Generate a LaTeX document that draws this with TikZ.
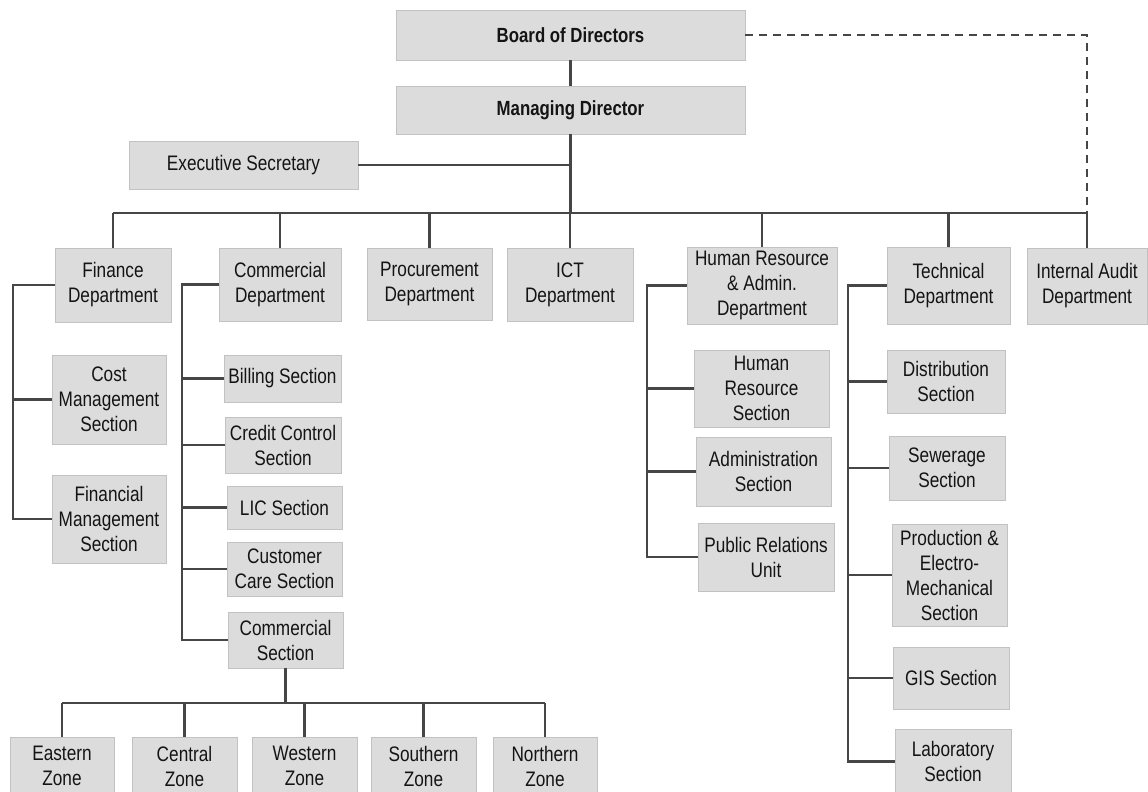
\documentclass[tikz,border=0pt]{standalone}
\usepackage{fontspec}
\setmainfont{Liberation Sans}[FakeStretch=0.82]
\definecolor{boxfill}{HTML}{DCDCDC}
\definecolor{boxedge}{HTML}{C2C2C2}
\definecolor{linec}{HTML}{464646}
\definecolor{txt}{HTML}{141414}
\tikzset{
  box/.style={draw=boxedge, fill=boxfill, line width=0.9pt, align=center,
    inner sep=0pt, text=txt, font=\fontsize{21}{25}\selectfont},
  topbox/.style={box, font=\fontsize{20.5}{25}\selectfont\bfseries},
  link/.style={draw=linec, line width=2.2pt},
  dotted link/.style={draw=linec, line width=2pt, dash pattern=on 8pt off 6pt}
}
\begin{document}
\begin{tikzpicture}[x=1pt,y=-1pt]
\useasboundingbox (0,0) rectangle (1148,792);
\clip (0,0) rectangle (1148,792);
\fill[white] (0,0) rectangle (1148,792);

% top of the hierarchy
\node[topbox, minimum width=349pt, minimum height=50pt] (bod) at (570.5,35) {Board of Directors};
\node[topbox, minimum width=349pt, minimum height=48pt] (md)  at (570.5,110) {Managing Director};
\node[box, minimum width=229pt, minimum height=48pt] (es) at (243.5,165) {Executive Secretary};

% departments
\node[box, minimum width=116pt, minimum height=74pt] (fin)  at (113,285)    {Finance\\Department};
\node[box, minimum width=122pt, minimum height=73pt] (com)  at (280,284.5)  {Commercial\\Department};
\node[box, minimum width=125pt, minimum height=72pt] (proc) at (429.5,284)  {Procurement\\Department};
\node[box, minimum width=126pt, minimum height=73pt] (ict)  at (570,284.5)  {ICT\\Department};
\node[box, minimum width=150pt, minimum height=77pt] (hr)   at (762,285.5)  {Human Resource\\\& Admin.\\Department};
\node[box, minimum width=123pt, minimum height=77pt] (tech) at (948.5,285.5) {Technical\\Department};
\node[box, minimum width=120pt, minimum height=76pt] (ia)   at (1087,286)   {Internal Audit\\Department};

% finance sections
\node[box, minimum width=114pt, minimum height=89pt] (cost) at (109,399.5) {Cost\\Management\\Section};
\node[box, minimum width=114pt, minimum height=88pt] (fm)   at (109,519)   {Financial\\Management\\Section};

% commercial sections
\node[box, minimum width=117pt, minimum height=47pt] (bill) at (282.5,378.5) {Billing Section};
\node[box, minimum width=116pt, minimum height=56pt] (cc)   at (283,445)     {Credit Control\\Section};
\node[box, minimum width=115pt, minimum height=43pt] (lic)  at (284.5,507.5) {LIC Section};
\node[box, minimum width=115pt, minimum height=54pt] (care) at (284.5,569)   {Customer\\Care Section};
\node[box, minimum width=115pt, minimum height=56pt] (cs)   at (285.5,640)   {Commercial\\Section};

% zones
\node[box, minimum width=104pt, minimum height=58pt] (ez) at (62,766)    {Eastern\\Zone};
\node[box, minimum width=105pt, minimum height=58pt] (cz) at (184.5,766) {Central\\Zone};
\node[box, minimum width=105pt, minimum height=58pt] (wz) at (304.5,766) {Western\\Zone};
\node[box, minimum width=105pt, minimum height=58pt] (sz) at (423.5,766) {Southern\\Zone};
\node[box, minimum width=104pt, minimum height=58pt] (nz) at (545,766)   {Northern\\Zone};

% human resource sections
\node[box, minimum width=135pt, minimum height=77pt] (hrs) at (761.5,388.5) {Human\\Resource\\Section};
\node[box, minimum width=135pt, minimum height=69pt] (adm) at (763.5,471.5) {Administration\\Section};
\node[box, minimum width=136pt, minimum height=68pt] (pr)  at (766,557)     {Public Relations\\Unit};

% technical sections
\node[box, minimum width=118pt, minimum height=63pt]  (dist) at (946,381.5) {Distribution\\Section};
\node[box, minimum width=116pt, minimum height=64pt]  (sew)  at (947,468)   {Sewerage\\Section};
\node[box, minimum width=115pt, minimum height=102pt] (prod) at (949.5,575) {Production \&\\Electro-\\Mechanical\\Section};
\node[box, minimum width=116pt, minimum height=62pt]  (gis)  at (951,678)   {GIS Section};
\node[box, minimum width=116pt, minimum height=65pt]  (lab)  at (953,761.5) {Laboratory\\Section};

% routing guides
\coordinate (bus)    at (0,213);
\coordinate (zbus)   at (0,703);
\coordinate (fspine) at (13,0);
\coordinate (cspine) at (182,0);
\coordinate (hspine) at (647,0);
\coordinate (tspine) at (848,0);

% management chain
\draw[link] (bod.south) -- (md.north);
\draw[link] (md.south) -- (md.south |- bus);
\draw[link] (es.east) -- (es.east -| md.south);
\draw[link] (fin.north |- bus) -- (ia.north |- bus);
\foreach \d in {fin,com,proc,ict,hr,tech,ia}
  \draw[link] (\d.north |- bus) -- (\d.north);
\draw[dotted link] (bod.east) -- (bod.east -| ia.north) -- (ia.north |- bus);

% finance
\draw[link] (fin.west) -- (fin.west -| fspine) -- (fm.west -| fspine) -- (fm.west);
\draw[link] (cost.west -| fspine) -- (cost.west);

% commercial
\draw[link] (com.west) -- (com.west -| cspine) -- (cs.west -| cspine) -- (cs.west);
\foreach \s in {bill,cc,lic,care}
  \draw[link] (\s.west -| cspine) -- (\s.west);
\draw[link] (cs.south) -- (cs.south |- zbus);
\draw[link] (ez.north |- zbus) -- (nz.north |- zbus);
\foreach \z in {ez,cz,wz,sz,nz}
  \draw[link] (\z.north |- zbus) -- (\z.north);

% human resource
\draw[link] (hr.west) -- (hr.west -| hspine) -- (pr.west -| hspine) -- (pr.west);
\foreach \s in {hrs,adm}
  \draw[link] (\s.west -| hspine) -- (\s.west);

% technical
\draw[link] (tech.west) -- (tech.west -| tspine) -- (lab.west -| tspine) -- (lab.west);
\foreach \s in {dist,sew,prod,gis}
  \draw[link] (\s.west -| tspine) -- (\s.west);
\end{tikzpicture}
\end{document}
